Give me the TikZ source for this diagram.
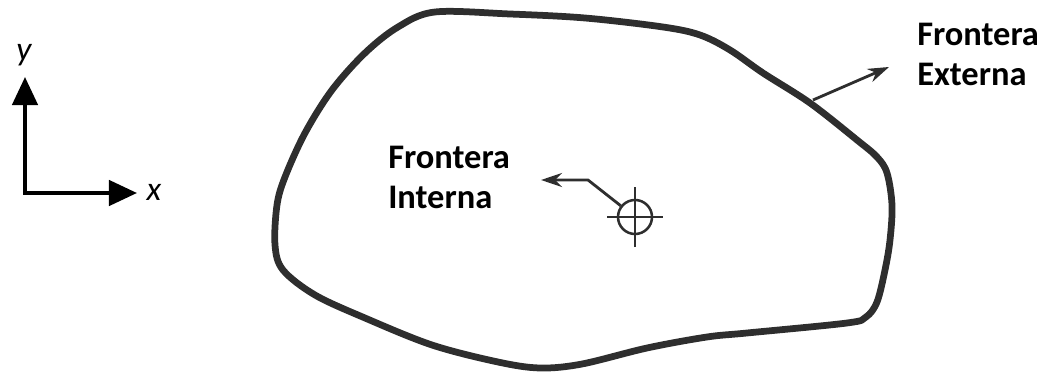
\documentclass[tikz,border=0pt]{standalone}
\usepackage{fontspec}
\setsansfont{Carlito}
\usetikzlibrary{arrows.meta}
\definecolor{ink}{HTML}{2E2E2E}

\begin{document}
\begin{tikzpicture}[
	x=0.025cm, y=-0.025cm,
	txt/.style={ font=\sffamily\bfseries\fontsize{24.5}{28.5}\selectfont, align=left, inner sep=0pt },
	axlab/.style={ font=\sffamily\itshape\fontsize{24}{28}\selectfont, inner sep=0pt },
	axis/.style={ line width=2.8pt, {Triangle[length=20pt,width=18pt]}-{Triangle[length=20pt,width=18pt]} },
	wall/.style={ ink, line width=4.8pt, line join=round },
	target/.style={ circle, draw=ink, line width=1.8pt, inner sep=0pt, minimum size=0.85cm },
	ptr/.style={ ink, line width=2pt, -{Stealth[length=15pt,width=10pt]} }
]
\useasboundingbox (0,0) rectangle (1043,373);

% ejes
\coordinate (orig) at (25,193);
\coordinate (ytip) at (25,77);
\coordinate (xtip) at (137,193);
\node at (24,55) (ylab) [axlab] {y};
\node at (154,192) (xlab) [axlab] {x};
\draw[axis] (ytip) -- (orig) -- (xtip);

% dominio
\draw[wall] plot[smooth cycle, tension=0.55] coordinates {
	(435,12) (510,14) (585,18) (663,27) (700,35) (730,50) (763,73)
	(810,103) (857,140) (877,157) (887,173) (892,205) (890,240)
	(885,270) (877,302) (866,317) (847,323) (747,333) (707,337)
	(647,348) (582,364) (540,368) (498,362) (432,345) (365,318)
	(315,295) (283,270) (275,245) (277,205) (285,177) (305,133)
	(332,90) (365,53) (398,27)
};

% frontera externa
\coordinate (ebase) at (813,100);
\coordinate (etip) at (889,67);
\draw[ptr] (ebase) -- (etip);
\node at (917,23) (ext) [txt,anchor=north west] {Frontera\\Externa};

% frontera interna
\node at (635,217) (hole) [target] {};
\draw[ink,line width=1.8pt] ([xshift=-0.7cm]hole.center) -- ([xshift=0.7cm]hole.center);
\draw[ink,line width=1.8pt] ([yshift=-0.75cm]hole.center) -- ([yshift=0.75cm]hole.center);
\coordinate (bend) at (588,180);
\coordinate (itip) at (541,180);
\draw[ptr] (hole) -- (bend) -- (itip);
\node at (388,146) (int) [txt,anchor=north west] {Frontera\\Interna};

\end{tikzpicture}
\end{document}
